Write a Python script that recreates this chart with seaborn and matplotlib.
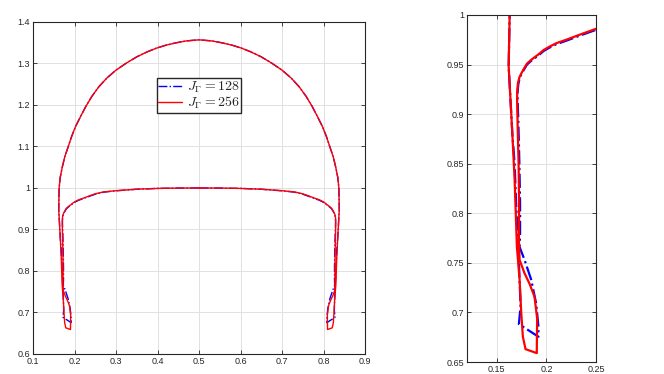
import matplotlib
matplotlib.use("Agg")
import matplotlib.pyplot as plt
import seaborn as sns
import pandas as pd

# interface shape, each loop stored as left half + right half
# J_Gamma = 256 (red, solid)
red_left_x = [0.5, 0.45, 0.4, 0.35, 0.3, 0.27, 0.25, 0.236, 0.22, 0.21, 0.203, 0.197, 0.193, 0.189,
              0.185, 0.1805, 0.1775, 0.1747, 0.1728, 0.1713, 0.1706, 0.1705, 0.171, 0.172, 0.1725,
              0.1723, 0.173, 0.178, 0.183, 0.188, 0.1907, 0.1903, 0.179, 0.1763, 0.1747, 0.173,
              0.1703, 0.168, 0.1657, 0.162, 0.1625, 0.163, 0.1655, 0.1705, 0.1765, 0.185, 0.193,
              0.2025, 0.215, 0.227, 0.242, 0.2587, 0.278, 0.3, 0.325, 0.35, 0.375, 0.3976, 0.42,
              0.4456, 0.47, 0.5]
red_left_y = [1.0, 0.9998, 0.999, 0.997, 0.9935, 0.9905, 0.986, 0.981, 0.975, 0.9715, 0.968, 0.9645,
              0.961, 0.958, 0.955, 0.951, 0.946, 0.941, 0.937, 0.931, 0.923, 0.915, 0.89, 0.85, 0.81,
              0.773, 0.753, 0.7395, 0.729, 0.716, 0.694, 0.659, 0.663, 0.6755, 0.699, 0.733, 0.766,
              0.834, 0.88, 0.948, 0.975, 1.0, 1.025, 1.05, 1.075, 1.1, 1.124, 1.148, 1.173, 1.196,
              1.221, 1.244, 1.265, 1.284, 1.301, 1.316, 1.328, 1.337, 1.344, 1.35, 1.3545, 1.357]
red_right_x = [0.53, 0.5544, 0.58, 0.6024, 0.625, 0.65, 0.675, 0.7, 0.722, 0.7413, 0.758, 0.773,
               0.785, 0.7975, 0.807, 0.815, 0.8235, 0.8295, 0.8345, 0.837, 0.8375, 0.838, 0.8343,
               0.832, 0.8297, 0.827, 0.8253, 0.8237, 0.821, 0.8097, 0.8093, 0.812, 0.817, 0.822,
               0.827, 0.8277, 0.8275, 0.828, 0.829, 0.8295, 0.8294, 0.8287, 0.8272, 0.8253, 0.8225,
               0.8195, 0.815, 0.811, 0.807, 0.803, 0.797, 0.79, 0.78, 0.764, 0.75, 0.73, 0.7, 0.65,
               0.6, 0.55, 0.5]
red_right_y = [1.3545, 1.35, 1.344, 1.337, 1.328, 1.316, 1.301, 1.284, 1.265, 1.244, 1.221, 1.196,
               1.173, 1.148, 1.124, 1.1, 1.075, 1.05, 1.025, 1.0, 0.975, 0.948, 0.88, 0.834, 0.766,
               0.733, 0.699, 0.6755, 0.663, 0.659, 0.694, 0.716, 0.729, 0.7395, 0.753, 0.773, 0.81,
               0.85, 0.89, 0.915, 0.923, 0.931, 0.937, 0.941, 0.946, 0.951, 0.955, 0.958, 0.961,
               0.9645, 0.968, 0.9715, 0.975, 0.981, 0.986, 0.9905, 0.9935, 0.997, 0.999, 0.9998, 1.0]

# J_Gamma = 128 (blue, dash-dot)
blue_left_x = [0.5, 0.45, 0.4, 0.35, 0.3, 0.27, 0.25, 0.236, 0.22, 0.21, 0.203, 0.197, 0.193, 0.189,
               0.185, 0.1805, 0.1775, 0.1747, 0.173, 0.1717, 0.171, 0.171, 0.1718, 0.1728, 0.1735,
               0.1735, 0.173, 0.178, 0.1847, 0.1897, 0.192, 0.192, 0.1723, 0.174, 0.173, 0.1717,
               0.1695, 0.168, 0.1657, 0.162, 0.1625, 0.163, 0.1655, 0.1705, 0.1765, 0.185, 0.193,
               0.2025, 0.215, 0.227, 0.242, 0.2587, 0.278, 0.3, 0.325, 0.35, 0.375, 0.3976, 0.42,
               0.4456, 0.47, 0.5]
blue_left_y = [1.0, 0.9998, 0.999, 0.997, 0.9932, 0.99, 0.985, 0.98, 0.974, 0.9705, 0.967, 0.9635,
               0.96, 0.957, 0.954, 0.95, 0.945, 0.94, 0.936, 0.93, 0.922, 0.915, 0.89, 0.85, 0.81,
               0.78, 0.766, 0.753, 0.733, 0.709, 0.6856, 0.6755, 0.6883, 0.706, 0.733, 0.766, 0.81,
               0.85, 0.88, 0.948, 0.975, 1.0, 1.025, 1.05, 1.075, 1.1, 1.124, 1.148, 1.173, 1.196,
               1.221, 1.244, 1.265, 1.284, 1.301, 1.316, 1.328, 1.337, 1.344, 1.35, 1.3545, 1.357]
blue_right_x = [0.53, 0.5544, 0.58, 0.6024, 0.625, 0.65, 0.675, 0.7, 0.722, 0.7413, 0.758, 0.773,
                0.785, 0.7975, 0.807, 0.815, 0.8235, 0.8295, 0.8345, 0.837, 0.8375, 0.838, 0.8343,
                0.832, 0.8305, 0.8283, 0.827, 0.826, 0.8277, 0.808, 0.808, 0.8103, 0.8153, 0.822,
                0.827, 0.8265, 0.8265, 0.8272, 0.8282, 0.829, 0.829, 0.8283, 0.827, 0.8253, 0.8225,
                0.8195, 0.815, 0.811, 0.807, 0.803, 0.797, 0.79, 0.78, 0.764, 0.75, 0.73, 0.7, 0.65,
                0.6, 0.55, 0.5]
blue_right_y = [1.3545, 1.35, 1.344, 1.337, 1.328, 1.316, 1.301, 1.284, 1.265, 1.244, 1.221, 1.196,
                1.173, 1.148, 1.124, 1.1, 1.075, 1.05, 1.025, 1.0, 0.975, 0.948, 0.88, 0.85, 0.81,
                0.766, 0.733, 0.706, 0.6883, 0.6755, 0.6856, 0.709, 0.733, 0.753, 0.766, 0.78, 0.81,
                0.85, 0.89, 0.915, 0.922, 0.93, 0.936, 0.94, 0.945, 0.95, 0.954, 0.957, 0.96, 0.9635,
                0.967, 0.9705, 0.974, 0.98, 0.985, 0.99, 0.9932, 0.997, 0.999, 0.9998, 1.0]

labels = [r"$J_\Gamma = 128$", r"$J_\Gamma = 256$"]

left_xticks = [0.1, 0.2, 0.3, 0.4, 0.5, 0.6, 0.7, 0.8, 0.9]
left_xlabels = ["0.1", "0.2", "0.3", "0.4", "0.5", "0.6", "0.7", "0.8", "0.9"]
left_yticks = [0.6, 0.7, 0.8, 0.9, 1.0, 1.1, 1.2, 1.3, 1.4]
left_ylabels = ["0.6", "0.7", "0.8", "0.9", "1", "1.1", "1.2", "1.3", "1.4"]
right_xticks = [0.15, 0.2, 0.25]
right_xlabels = ["0.15", "0.2", "0.25"]
right_yticks = [0.65, 0.7, 0.75, 0.8, 0.85, 0.9, 0.95, 1.0]
right_ylabels = ["0.65", "0.7", "0.75", "0.8", "0.85", "0.9", "0.95", "1"]

sns.set_style("whitegrid", {"axes.edgecolor": "#262626", "grid.color": "#e1e1e1"})
plt.rcParams["font.family"] = ["Liberation Sans", "DejaVu Sans"]
plt.rcParams["mathtext.fontset"] = "cm"

blue_df = pd.DataFrame({"x": blue_left_x + blue_right_x, "y": blue_left_y + blue_right_y})
red_df = pd.DataFrame({"x": red_left_x + red_right_x, "y": red_left_y + red_right_y})

fig = plt.figure(figsize=(6.64, 3.74), dpi=100)
ax1 = fig.add_axes([0.0497, 0.0535, 0.5, 0.8877])
ax2 = fig.add_axes([0.7033, 0.032, 0.1943, 0.928])


def draw(ax, lw):
    sns.lineplot(data=blue_df, x="x", y="y", sort=False, estimator=None, color="blue",
                 linestyle="-.", linewidth=lw, ax=ax, label=labels[0])
    sns.lineplot(data=red_df, x="x", y="y", sort=False, estimator=None, color="red",
                 linewidth=lw, ax=ax, label=labels[1])


def style(ax, xt, xl, yt, yl, xlim, ylim):
    ax.set_xlim(*xlim)
    ax.set_ylim(*ylim)
    ax.set_xticks(xt)
    ax.set_xticklabels(xl)
    ax.set_yticks(yt)
    ax.set_yticklabels(yl)
    ax.set_xlabel("")
    ax.set_ylabel("")
    ax.grid(True, color="#e1e1e1", linewidth=0.7)
    ax.tick_params(direction="in", length=3, width=0.6, colors="#262626", labelsize=6.5,
                   top=True, right=True, bottom=True, left=True, pad=2)
    for s in ax.spines.values():
        s.set_color("#262626")
        s.set_linewidth(0.8)


draw(ax1, 1.0)
style(ax1, left_xticks, left_xlabels, left_yticks, left_ylabels, (0.1, 0.9), (0.6, 1.4))
ax1.legend(loc="upper left", bbox_to_anchor=(0.3726, 0.831), borderaxespad=0, fontsize=10,
           fancybox=False, framealpha=1, edgecolor="#262626", handlelength=1.7,
           borderpad=0.12, labelspacing=0.0, handletextpad=0.35)

draw(ax2, 1.6)
style(ax2, right_xticks, right_xlabels, right_yticks, right_ylabels, (0.12, 0.25), (0.65, 1.0))
ax2.get_legend().remove()

fig.savefig("out.png", dpi=100)
